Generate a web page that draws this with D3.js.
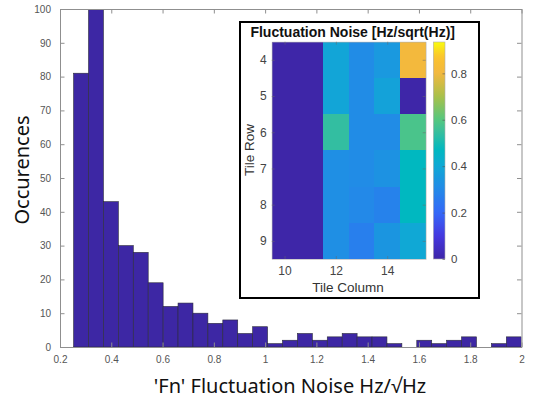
<!DOCTYPE html>
<html lang="en">
<head>
<meta charset="utf-8">
<title>Fluctuation Noise histogram</title>
<script src="https://cdn.jsdelivr.net/npm/d3@7/dist/d3.min.js"></script>
<style>
  body { margin: 0; background: #fff; }
  .tick text { font-family: "Liberation Sans", Arial, sans-serif; }
</style>
</head>
<body>
<script>
"use strict";

// histogram bins (left edge of first bin, bin width, counts)
const binStart = 0.253;
const binWidth = 0.0582;
const counts = [81, 100, 43, 30, 28, 19, 12, 13, 10, 7, 8, 4, 6,
                1, 2, 4, 2, 3, 4, 3, 3, 1, 0, 2, 1, 2, 3, 0, 1, 3];
const xTicks = [0.2, 0.4, 0.6, 0.8, 1, 1.2, 1.4, 1.6, 1.8, 2];
const yTicks = [0, 10, 20, 30, 40, 50, 60, 70, 80, 90, 100];

// inset heatmap: rows 4..9, columns 10..15
const tileRows = [4, 5, 6, 7, 8, 9];
const tileCols = [10, 11, 12, 13, 14, 15];
const noise = [
  [0, 0, 0.39, 0.31, 0.35, 0.81],
  [0, 0, 0.39, 0.31, 0.38, 0],
  [0, 0, 0.54, 0.31, 0.31, 0.58],
  [0, 0, 0.32, 0.31, 0.33, 0.47],
  [0, 0, 0.32, 0.30, 0.28, 0.47],
  [0, 0, 0.32, 0.27, 0.34, 0.40]
];
const colTicks = [10, 12, 14];
const cbarTicks = [0, 0.2, 0.4, 0.6, 0.8];
const cbarMax = 0.935;

// parula-like colour stops
const parulaStops = ["#3e26a8", "#4538e0", "#3468f8", "#2389e8", "#10a8d5",
  "#00b8c0", "#3abf9c", "#55c77f", "#a8c04a", "#f2b840", "#fbc22e", "#f9fb0e"];
const parulaPos = [0, 0.1, 0.2, 0.3, 0.4, 0.47, 0.55, 0.6, 0.7, 0.8, 0.87, 0.935];

const W = 534, H = 402;
const m = {left: 60, right: 521.5, top: 9, bottom: 347};

const svg = d3.select("body").append("svg")
  .attr("width", W).attr("height", H);

const x = d3.scaleLinear().domain([0.2, 2]).range([m.left, m.right]);
const y = d3.scaleLinear().domain([0, 100]).range([m.bottom, m.top]).clamp(true);

svg.append("clipPath").attr("id", "plotclip")
  .append("rect").attr("x", m.left).attr("y", m.top)
  .attr("width", m.right - m.left).attr("height", m.bottom - m.top);

// bars
svg.append("g").attr("clip-path", "url(#plotclip)")
  .selectAll("rect")
  .data(counts)
  .enter().append("rect")
  .attr("x", (d, i) => x(binStart + i * binWidth))
  .attr("width", (d, i) => x(binStart + (i + 1) * binWidth) - x(binStart + i * binWidth))
  .attr("y", d => y(d))
  .attr("height", d => y(0) - y(d))
  .attr("fill", d => d > 0 ? "#3d27a4" : "none")
  .attr("stroke", d => d > 0 ? "#2b2b3a" : "none")
  .attr("stroke-width", 0.6);

// axes with inward ticks on all four sides
const axisColor = "#8f8f8f", textColor = "#555";
function styleAxis(g) {
  g.select(".domain").attr("stroke", axisColor);
  g.selectAll(".tick line").attr("stroke", axisColor);
  g.selectAll(".tick text").attr("fill", textColor).attr("font-size", 10);
}
const fmt = d => String(+d.toFixed(1));
const intFmt = d3.format("d");

svg.append("g").attr("transform", `translate(0,${m.bottom})`)
  .call(d3.axisBottom(x).tickValues(xTicks).tickFormat(fmt).tickSizeInner(-4.5).tickSizeOuter(0).tickPadding(9))
  .call(styleAxis);
svg.append("g").attr("transform", `translate(0,${m.top})`)
  .call(d3.axisTop(x).tickValues(xTicks).tickFormat("").tickSizeInner(-4.5).tickSizeOuter(0))
  .call(styleAxis);
svg.append("g").attr("transform", `translate(${m.left},0)`)
  .call(d3.axisLeft(y).tickValues(yTicks).tickSizeInner(-4.5).tickSizeOuter(0).tickPadding(9))
  .call(styleAxis);
svg.append("g").attr("transform", `translate(${m.right},0)`)
  .call(d3.axisRight(y).tickValues(yTicks).tickFormat("").tickSizeInner(-4.5).tickSizeOuter(0))
  .call(styleAxis);

// axis titles
svg.append("text")
  .attr("x", 290).attr("y", 393)
  .attr("text-anchor", "middle")
  .attr("font-family", "'Noto Sans', 'Open Sans', sans-serif")
  .attr("font-size", 20).attr("fill", "#111")
  .text("'Fn' Fluctuation Noise Hz/\u221AHz");

svg.append("text")
  .attr("transform", "translate(29,170) rotate(-90)")
  .attr("text-anchor", "middle")
  .attr("font-family", "'Noto Sans', 'Open Sans', sans-serif")
  .attr("font-size", 20).attr("fill", "#111")
  .text("Occurences");

// ---------- inset ----------
const inset = svg.append("g");
inset.append("rect")
  .attr("x", 240).attr("y", 22).attr("width", 239).attr("height", 276)
  .attr("fill", "#fff").attr("stroke", "#000").attr("stroke-width", 2);

inset.append("text")
  .attr("x", 352.7).attr("y", 37).attr("text-anchor", "middle")
  .attr("font-family", "'Liberation Sans', Arial, sans-serif")
  .attr("font-size", 14).attr("font-weight", "bold").attr("fill", "#111")
  .text("Fluctuation Noise [Hz/sqrt(Hz)]");

const hx = d3.scaleBand().domain(tileCols).range([271.7, 425.7]);
const hy = d3.scaleBand().domain(tileRows).range([41.7, 259]);
const color = d3.scaleLinear().domain(parulaPos).range(parulaStops)
  .interpolate(d3.interpolateRgb).clamp(true);

const cells = [];
noise.forEach((row, r) => row.forEach((v, c) =>
  cells.push({row: tileRows[r], col: tileCols[c], v: v})));

inset.append("g").attr("shape-rendering", "crispEdges")
  .selectAll("rect")
  .data(cells)
  .enter().append("rect")
  .attr("x", d => hx(d.col))
  .attr("y", d => hy(d.row))
  .attr("width", hx.bandwidth())
  .attr("height", hy.bandwidth())
  .attr("fill", d => color(d.v));

// heatmap ticks (linear scales through cell centres)
const hxl = d3.scaleLinear().domain([9.5, 15.5]).range([271.7, 425.7]);
const hyl = d3.scaleLinear().domain([3.5, 9.5]).range([41.7, 259]);
function styleInset(g) {
  g.select(".domain").attr("stroke", "#b0b0b0").attr("stroke-width", 0.6);
  g.selectAll(".tick line").attr("stroke", "#6a6a6a").attr("stroke-opacity", 0.5);
  g.selectAll(".tick text").attr("fill", "#444").attr("font-size", 12);
}
inset.append("g").attr("transform", "translate(0,259)")
  .call(d3.axisBottom(hxl).tickValues(colTicks).tickFormat(intFmt).tickSizeInner(-3).tickSizeOuter(0).tickPadding(7))
  .call(styleInset);
inset.append("g").attr("transform", "translate(0,41.7)")
  .call(d3.axisTop(hxl).tickValues(colTicks).tickFormat("").tickSizeInner(-3).tickSizeOuter(0))
  .call(styleInset);
inset.append("g").attr("transform", "translate(271.7,0)")
  .call(d3.axisLeft(hyl).tickValues(tileRows).tickFormat(intFmt).tickSizeInner(-3).tickSizeOuter(0).tickPadding(5))
  .call(styleInset);
inset.append("g").attr("transform", "translate(425.7,0)")
  .call(d3.axisRight(hyl).tickValues(tileRows).tickFormat("").tickSizeInner(-3).tickSizeOuter(0))
  .call(styleInset);

inset.append("text")
  .attr("x", 348).attr("y", 292).attr("text-anchor", "middle")
  .attr("font-family", "'Liberation Sans', Arial, sans-serif")
  .attr("font-size", 13.5).attr("fill", "#333")
  .text("Tile Column");
inset.append("text")
  .attr("transform", "translate(254,150) rotate(-90)")
  .attr("text-anchor", "middle")
  .attr("font-family", "'Liberation Sans', Arial, sans-serif")
  .attr("font-size", 13.5).attr("fill", "#333")
  .text("Tile Row");

// colorbar
const cb = d3.scaleLinear().domain([0, cbarMax]).range([259, 42]);
const grad = svg.append("defs").append("linearGradient")
  .attr("id", "parula").attr("x1", 0).attr("y1", 1).attr("x2", 0).attr("y2", 0);
d3.range(0, 1.0001, 0.02).forEach(t => {
  grad.append("stop").attr("offset", t).attr("stop-color", color(t * cbarMax));
});
inset.append("rect")
  .attr("x", 433.3).attr("y", 42).attr("width", 11.7).attr("height", 217)
  .attr("fill", "url(#parula)").attr("stroke", "#b0b0b0").attr("stroke-width", 0.6);
inset.append("g").attr("transform", "translate(445,0)")
  .call(d3.axisRight(cb).tickValues(cbarTicks).tickFormat(fmt).tickSizeInner(-2.5).tickSizeOuter(0).tickPadding(6))
  .call(g => g.select(".domain").remove())
  .call(g => g.selectAll(".tick line").attr("stroke", "#555").attr("stroke-opacity", 0.6))
  .call(g => g.selectAll(".tick text").attr("fill", "#444").attr("font-size", 11.5));
</script>
</body>
</html>
